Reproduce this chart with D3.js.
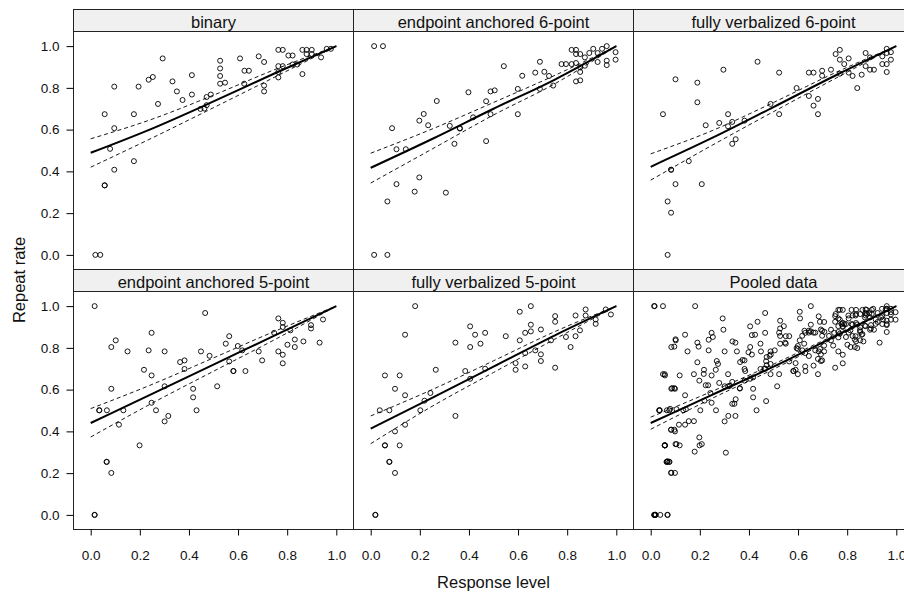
<!DOCTYPE html>
<html>
<head>
<meta charset="utf-8">
<script src="https://cdn.jsdelivr.net/npm/d3@7"></script>
<style>
  body { margin: 0; background: #fff; }
  text { font-family: "Liberation Sans", Arial, sans-serif; }
</style>
</head>
<body>
<svg width="904" height="595"></svg>
<script>
// panneaux, dans l'ordre de lecture
const panelNames = ["binary", "endpoint anchored 6-point", "fully verbalized 6-point",
                    "endpoint anchored 5-point", "fully verbalized 5-point", "Pooled data"];

// points [response level, repeat rate]
const binaryPts = [
  [0.019,0],[0.039,0],[0.057,0.674],[0.057,0.333],[0.057,0.333],[0.079,0.508],[0.096,0.806],
  [0.096,0.607],[0.096,0.408],[0.176,0.674],[0.176,0.449],[0.195,0.806],[0.236,0.839],[0.253,0.852],
  [0.274,0.723],[0.293,0.941],[0.333,0.831],[0.351,0.783],[0.374,0.742],[0.412,0.861],[0.412,0.768],
  [0.447,0.699],[0.463,0.701],[0.472,0.717],[0.472,0.756],[0.489,0.768],[0.527,0.930],[0.527,0.893],
  [0.527,0.857],[0.527,0.820],[0.547,0.825],[0.608,0.941],[0.626,0.882],[0.644,0.882],[0.625,0.820],
  [0.684,0.951],[0.706,0.924],[0.706,0.811],[0.706,0.783],[0.764,0.982],[0.782,0.982],[0.764,0.904],
  [0.782,0.904],[0.764,0.876],[0.764,0.850],[0.805,0.955],[0.822,0.955],[0.822,0.912],[0.841,0.912],
  [0.862,0.982],[0.879,0.982],[0.900,0.982],[0.879,0.962],[0.900,0.962],[0.862,0.866],[0.938,0.946],
  [0.961,0.987],[0.978,0.987]
];
const ep6Pts = [
  [0.014,1],[0.050,1],[0.014,0],[0.068,0],[0.087,0.607],[0.105,0.506],[0.143,0.506],[0.105,0.339],
  [0.068,0.256],[0.179,0.303],[0.198,0.371],[0.198,0.643],[0.216,0.675],[0.234,0.621],[0.269,0.737],
  [0.306,0.298],[0.322,0.618],[0.341,0.532],[0.363,0.607],[0.363,0.605],[0.398,0.779],[0.417,0.659],
  [0.470,0.736],[0.470,0.545],[0.488,0.674],[0.488,0.783],[0.505,0.788],[0.542,0.904],[0.599,0.674],
  [0.599,0.795],[0.617,0.858],[0.670,0.873],[0.689,0.925],[0.689,0.795],[0.707,0.877],[0.726,0.857],
  [0.743,0.811],[0.777,0.914],[0.795,0.914],[0.818,0.982],[0.836,0.982],[0.836,0.962],[0.853,0.962],
  [0.818,0.914],[0.836,0.919],[0.853,0.898],[0.853,0.876],[0.836,0.831],[0.853,0.836],[0.872,0.906],
  [0.872,0.946],[0.890,0.967],[0.906,0.987],[0.924,0.967],[0.942,0.987],[0.961,1],[0.924,0.924],
  [0.961,0.930],[0.961,0.909],[0.997,0.971],[0.997,0.935]
];
const fv6Pts = [
  [0.050,0.674],[0.101,0.841],[0.069,0.256],[0.083,0.202],[0.069,0],[0.083,0.408],[0.083,0.408],
  [0.101,0.339],[0.155,0.449],[0.190,0.825],[0.190,0.731],[0.208,0.339],[0.224,0.621],[0.279,0.632],
  [0.296,0.887],[0.315,0.674],[0.315,0.616],[0.332,0.637],[0.332,0.532],[0.346,0.554],[0.382,0.643],
  [0.435,0.925],[0.488,0.723],[0.523,0.873],[0.523,0.674],[0.594,0.799],[0.644,0.873],[0.663,0.873],
  [0.644,0.761],[0.663,0.715],[0.681,0.747],[0.681,0.674],[0.698,0.882],[0.698,0.858],[0.734,0.887],
  [0.753,0.962],[0.770,0.982],[0.770,0.935],[0.770,0.868],[0.788,0.914],[0.806,0.941],[0.806,0.873],
  [0.822,0.857],[0.841,0.799],[0.859,0.863],[0.875,0.967],[0.875,0.904],[0.893,0.946],[0.893,0.887],
  [0.909,0.887],[0.943,0.951],[0.943,0.914],[0.961,0.987],[0.961,0.967],[0.961,0.914],[0.978,0.971],
  [0.978,0.935],[0.961,0.876]
];
const ep5Pts = [
  [0.016,1],[0.016,0],[0.016,0],[0.035,0.501],[0.035,0.501],[0.066,0.501],[0.065,0.254],[0.065,0.254],
  [0.084,0.201],[0.084,0.604],[0.084,0.804],[0.102,0.836],[0.115,0.432],[0.133,0.501],[0.150,0.783],
  [0.199,0.333],[0.217,0.695],[0.236,0.788],[0.248,0.872],[0.248,0.668],[0.248,0.537],[0.266,0.501],
  [0.301,0.783],[0.301,0.616],[0.301,0.448],[0.316,0.474],[0.364,0.732],[0.382,0.740],[0.382,0.699],
  [0.417,0.604],[0.417,0.563],[0.431,0.501],[0.449,0.783],[0.466,0.967],[0.484,0.762],[0.515,0.616],
  [0.550,0.820],[0.564,0.856],[0.564,0.735],[0.581,0.689],[0.581,0.689],[0.599,0.809],[0.617,0.788],
  [0.630,0.689],[0.684,0.783],[0.698,0.740],[0.747,0.872],[0.764,0.941],[0.764,0.783],[0.782,0.920],
  [0.782,0.900],[0.782,0.767],[0.782,0.726],[0.801,0.815],[0.813,0.884],[0.831,0.840],[0.831,0.804],
  [0.866,0.831],[0.897,0.909],[0.897,0.893],[0.932,0.825],[0.946,0.936]
];
const fv5Pts = [
  [0.019,0],[0.019,0],[0.037,0.501],[0.076,0.501],[0.058,0.668],[0.118,0.668],[0.099,0.604],
  [0.140,0.863],[0.140,0.573],[0.140,0.432],[0.099,0.400],[0.058,0.333],[0.058,0.333],[0.118,0.333],
  [0.076,0.254],[0.076,0.254],[0.099,0.201],[0.181,1],[0.202,0.501],[0.219,0.547],[0.243,0.584],
  [0.265,0.695],[0.345,0.825],[0.345,0.474],[0.385,0.689],[0.405,0.903],[0.405,0.804],[0.405,0.652],
  [0.425,0.863],[0.447,0.820],[0.466,0.872],[0.466,0.700],[0.550,0.856],[0.590,0.727],[0.590,0.695],
  [0.607,0.973],[0.607,0.836],[0.629,0.872],[0.629,0.775],[0.629,0.711],[0.652,1],[0.652,0.911],
  [0.652,0.879],[0.670,0.788],[0.693,0.888],[0.693,0.769],[0.693,0.737],[0.734,0.836],[0.751,0.952],
  [0.751,0.925],[0.751,0.705],[0.795,0.852],[0.814,0.804],[0.834,0.955],[0.834,0.856],[0.852,0.884],
  [0.875,0.984],[0.875,0.955],[0.916,0.936],[0.916,0.915],[0.957,0.984],[0.978,0.960]
];

// courbes ajustées (trait plein) et bandes (tirets), lues aux abscisses fitX
const fitX = [0, 0.25, 0.5, 0.75, 1];
const fitMid = [
  [0.489, 0.605, 0.735, 0.870, 1.0],
  [0.417, 0.555, 0.700, 0.840, 1.0],
  [0.422, 0.560, 0.708, 0.858, 1.0],
  [0.440, 0.580, 0.720, 0.860, 1.0],
  [0.413, 0.560, 0.710, 0.860, 1.0],
  [0.440, 0.575, 0.710, 0.855, 1.0]
];
const fitHi = [
  [0.556, 0.650, 0.765, 0.888, 1.0],
  [0.487, 0.603, 0.730, 0.860, 1.0],
  [0.484, 0.595, 0.730, 0.872, 1.0],
  [0.509, 0.625, 0.752, 0.880, 1.0],
  [0.474, 0.600, 0.738, 0.878, 1.0],
  [0.468, 0.592, 0.722, 0.862, 1.0]
];
const fitLo = [
  [0.420, 0.560, 0.705, 0.852, 1.0],
  [0.344, 0.507, 0.670, 0.820, 1.0],
  [0.358, 0.525, 0.686, 0.844, 1.0],
  [0.373, 0.535, 0.688, 0.840, 1.0],
  [0.341, 0.520, 0.682, 0.842, 1.0],
  [0.410, 0.558, 0.698, 0.848, 1.0]
];

const tickVals = [0, 0.2, 0.4, 0.6, 0.8, 1.0];

// le panneau "Pooled data" = tous les points réunis
const pooledPts = [].concat(binaryPts, ep6Pts, fv6Pts, ep5Pts, fv5Pts);
const panelPts = [binaryPts, ep6Pts, fv6Pts, ep5Pts, fv5Pts, pooledPts];

// mise en page
const leftX = 73.5, topY = 9.5, pw = 280, sh = 22, ph = 238;
const svg = d3.select("svg");

const x = d3.scaleLinear().domain([-0.07, 1.07]).range([0, pw]);
const y = d3.scaleLinear().domain([-0.07, 1.07]).range([ph, 0]);

const line = d3.line()
  .x(d => x(d[0]))
  .y(d => y(d[1]))
  .curve(d3.curveMonotoneX);

panelNames.forEach((name, i) => {
  const col = i % 3, row = Math.floor(i / 3);
  const px = leftX + col * pw;
  const py = topY + row * (sh + ph);

  // bandeau
  svg.append("rect")
    .attr("x", px).attr("y", py)
    .attr("width", pw).attr("height", sh)
    .attr("fill", "#f0f0f0").attr("stroke", "#222");
  svg.append("text")
    .attr("x", px + pw / 2).attr("y", py + 18.5)
    .attr("text-anchor", "middle")
    .attr("font-size", 16.5)
    .attr("fill", "#111")
    .text(name);

  const g = svg.append("g").attr("transform", `translate(${px},${py + sh})`);

  g.append("rect")
    .attr("width", pw).attr("height", ph)
    .attr("fill", "none").attr("stroke", "#222");

  // points
  g.selectAll("circle")
    .data(panelPts[i])
    .join("circle")
    .attr("cx", d => x(d[0]))
    .attr("cy", d => y(d[1]))
    .attr("r", 2.5)
    .attr("fill", "none")
    .attr("stroke", "#000")
    .attr("stroke-width", 0.9);

  // bandes
  [fitHi[i], fitLo[i]].forEach(vals => {
    g.append("path")
      .datum(fitX.map((v, k) => [v, vals[k]]))
      .attr("d", line)
      .attr("fill", "none")
      .attr("stroke", "#000")
      .attr("stroke-width", 0.9)
      .attr("stroke-dasharray", "4,3");
  });

  // ajustement
  g.append("path")
    .datum(fitX.map((v, k) => [v, fitMid[i][k]]))
    .attr("d", line)
    .attr("fill", "none")
    .attr("stroke", "#000")
    .attr("stroke-width", 2);

  // axe y à gauche de la première colonne
  if (col === 0) {
    const ay = g.append("g")
      .call(d3.axisLeft(y).tickValues(tickVals).tickSize(7).tickPadding(7).tickFormat(d3.format(".1f")));
    ay.select(".domain").remove();
    ay.selectAll("text").attr("font-size", 13.5).attr("fill", "#111");
    ay.attr("font-family", null);
  }
  // axe x sous la dernière rangée
  if (row === 1) {
    const ax = g.append("g")
      .attr("transform", `translate(0,${ph})`)
      .call(d3.axisBottom(x).tickValues(tickVals).tickSize(6).tickPadding(14.5).tickFormat(d3.format(".1f")));
    ax.select(".domain").remove();
    ax.selectAll("text").attr("font-size", 13.5).attr("fill", "#111");
    ax.attr("font-family", null);
  }
});

// titres des axes
svg.append("text")
  .attr("x", leftX + 1.5 * pw).attr("y", 588)
  .attr("text-anchor", "middle")
  .attr("font-size", 16.5)
  .attr("fill", "#111")
  .text("Response level");

svg.append("text")
  .attr("transform", "translate(25,280) rotate(-90)")
  .attr("text-anchor", "middle")
  .attr("font-size", 16.5)
  .attr("fill", "#111")
  .text("Repeat rate");
</script>
</body>
</html>
